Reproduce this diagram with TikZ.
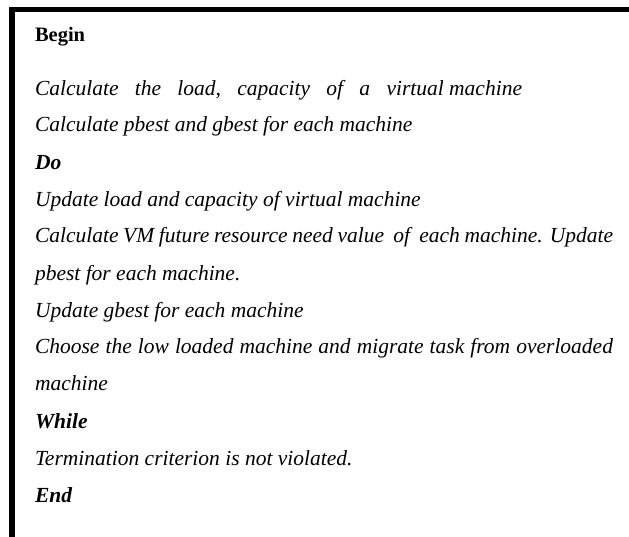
\documentclass[tikz,border=0pt]{standalone}
\usepackage{fontspec}
\setmainfont{Liberation Serif}
\tikzset{
  algline/.style={anchor=base west, inner sep=0pt, outer sep=0pt,
    font=\fontsize{21.5}{25}\selectfont\itshape},
  algkey/.style={algline, font=\fontsize{21.5}{25}\selectfont\bfseries\itshape},
  frameline/.style={line width=5.5pt, line join=miter}
}
\begin{document}
\begin{tikzpicture}[x=1pt,y=-1pt]
\useasboundingbox (0,0) rectangle (629,537);
% open frame: left and top rules only
\coordinate (fbot) at (12,537);
\coordinate (fcorner) at (12,9.6);
\coordinate (fright) at (629,9.6);
\draw[frameline] (fbot) -- (fcorner) -- (fright);
% pseudocode lines
\node[algline, font=\fontsize{20.5}{24}\selectfont\bfseries] (begin) at (35,42) {Begin};
\node[algline] (l1) at (35,96) {\makebox[487pt][s]{Calculate\hfill the\hfill load,\hfill capacity\hfill of\hfill a\hfill virtual machine}};
\node[algline] (l2) at (35,132) {Calculate pbest and gbest for each machine};
\node[algkey] (do) at (35,170) {Do};
\node[algline] (l3) at (35,207) {Update load and capacity of virtual machine};
\node[algline] (l4) at (35,243) {\makebox[578pt][s]{Calculate VM future resource need value\ \ of\ \ each machine. Update}};
\node[algline] (l5) at (35,280) {pbest for each machine.};
\node[algline] (l6) at (35,317) {Update gbest for each machine};
\node[algline] (l7) at (35,353) {\makebox[578pt][s]{Choose the low loaded machine and migrate task from overloaded}};
\node[algline] (l8) at (35,390) {machine};
\node[algkey] (while) at (35,428) {While};
\node[algline] (l9) at (35,465) {Termination criterion is not violated.};
\node[algkey] (end) at (35,502) {End};
\end{tikzpicture}
\end{document}
